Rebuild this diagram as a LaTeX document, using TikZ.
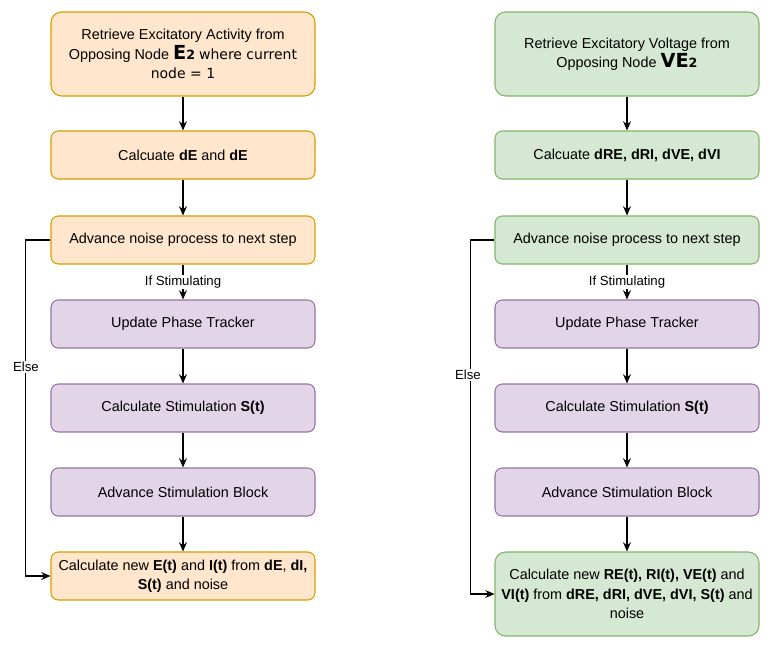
\documentclass[tikz,border=0pt]{standalone}
\usepackage{fontspec}
\setmainfont{Liberation Sans}
\newfontfamily\dvsans{DejaVu Sans}
\usetikzlibrary{arrows.meta,positioning}
\definecolor{orfill}{HTML}{FFE6CC}
\definecolor{ordraw}{HTML}{D79B00}
\definecolor{grfill}{HTML}{D5E8D4}
\definecolor{grdraw}{HTML}{82B366}
\definecolor{pufill}{HTML}{E1D5E7}
\definecolor{pudraw}{HTML}{9673A6}
\tikzset{
  stepbox/.style={rectangle, rounded corners=5.5pt, line width=0.8pt, align=center,
    minimum width=198pt, minimum height=36pt, inner sep=2pt, font=\fontsize{10.8}{14.5}\selectfont},
  tallbox/.style={stepbox, minimum height=63pt, rounded corners=8pt},
  orbox/.style={fill=orfill, draw=ordraw},
  grbox/.style={fill=grfill, draw=grdraw},
  pubox/.style={fill=pufill, draw=pudraw},
  flow/.style={line width=0.8pt, -{Stealth[length=7pt,width=6pt,inset=2.5pt]}},
  lbl/.style={fill=white, inner sep=1pt, font=\fontsize{9.9}{12}\selectfont}
}
\begin{document}
\begin{tikzpicture}[x=0.75pt,y=-0.75pt]
  \useasboundingbox (0,0) rectangle (772,651);
  % left column
  \node[tallbox,orbox] (L1) at (183,54) {Retrieve Excitatory Activity from\\
    Opposing Node {\fontsize{14.5}{14.5}\selectfont\bfseries\dvsans E}{\fontsize{9.5}{9.5}\selectfont\bfseries\dvsans 2} {\dvsans\fontsize{10.5}{14.5}\selectfont where current}\\
    {\dvsans\fontsize{10.5}{14.5}\selectfont node = 1}};
  \node[stepbox,orbox] (L2) at (183,155) {Calcuate \textbf{dE} and \textbf{dE}};
  \node[stepbox,orbox] (L3) at (183,240) {Advance noise process to next step};
  \node[stepbox,pubox] (L4) at (183,324) {Update Phase Tracker};
  \node[stepbox,pubox] (L5) at (183,408) {Calculate Stimulation \textbf{S(t)}};
  \node[stepbox,pubox] (L6) at (183,492) {Advance Stimulation Block};
  \node[stepbox,orbox] (L7) at (183,576) {Calculate new \textbf{E(t)} and \textbf{I(t)} from \textbf{dE}, \textbf{dI,}\\ \textbf{S(t)} and noise};
  \draw[flow] (L1) -- (L2);
  \draw[flow] (L2) -- (L3);
  \draw[flow] (L3) -- node[lbl] (LS) {If Stimulating} (L4);
  \draw[flow] (L4) -- (L5);
  \draw[flow] (L5) -- (L6);
  \draw[flow] (L6) -- (L7);
  \draw[flow] (L3.west) -- ++(-25,0) |- (L7.west);
  \node[lbl] (LE) at (26,367) {Else};
  % right column
  \node[tallbox,grbox] (R1) at (627,54) {Retrieve Excitatory Voltage from\\
    Opposing Node {\fontsize{14.5}{14.5}\selectfont\bfseries\dvsans VE}{\fontsize{9.5}{9.5}\selectfont\bfseries\dvsans 2}};
  \node[stepbox,grbox] (R2) at (627,155) {Calcuate \textbf{dRE, dRI, dVE, dVI}};
  \node[stepbox,grbox] (R3) at (627,240) {Advance noise process to next step};
  \node[stepbox,pubox] (R4) at (627,324) {Update Phase Tracker};
  \node[stepbox,pubox] (R5) at (627,408) {Calculate Stimulation \textbf{S(t)}};
  \node[stepbox,pubox] (R6) at (627,492) {Advance Stimulation Block};
  \node[tallbox,grbox] (R7) at (627,594) {Calculate new \textbf{RE(t), RI(t), VE(t)} and\\ \textbf{VI(t)} from \textbf{dRE, dRI, dVE, dVI, S(t)} and\\ noise};
  \draw[flow] (R1) -- (R2);
  \draw[flow] (R2) -- (R3);
  \draw[flow] (R3) -- node[lbl] (RS) {If Stimulating} (R4);
  \draw[flow] (R4) -- (R5);
  \draw[flow] (R5) -- (R6);
  \draw[flow] (R6) -- (R7);
  \draw[flow] (R3.west) -- ++(-24,0) |- (R7.west);
  \node[lbl] (RE) at (468,375) {Else};
\end{tikzpicture}
\end{document}
